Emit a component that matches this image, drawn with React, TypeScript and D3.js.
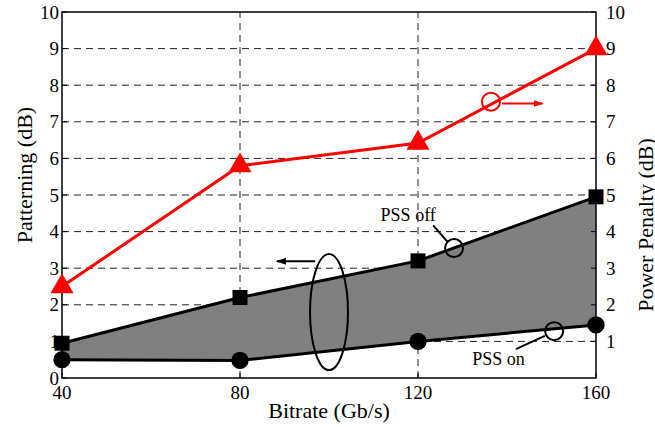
import * as d3 from 'd3';
import React from 'react';

// values
const bitrates = [40, 80, 120, 160];
const pssOff = [0.95, 2.2, 3.2, 4.95]; // patterning, squares
const pssOn = [0.5, 0.48, 1.0, 1.45]; // patterning, circles
const penalty = [2.5, 5.8, 6.42, 9.0]; // power penalty, triangles
const xTicks = [40, 80, 120, 160];
const leftTicks = [0, 1, 2, 3, 4, 5, 6, 7, 8, 9, 10];
const rightTicks = [1, 2, 3, 4, 5, 6, 7, 8, 9, 10];
const gridY = [1, 2, 3, 4, 5, 6, 7, 8, 9];
const gridX = [80, 120];

const W = 655;
const H = 427;
const margin = { top: 12, right: 59, bottom: 49, left: 62 };
const serif = { fontFamily: '"Liberation Serif"' };

export default function App() {
  const x = d3.scaleLinear().domain([40, 160]).range([margin.left, W - margin.right]);
  const y = d3.scaleLinear().domain([0, 10]).range([H - margin.bottom, margin.top]);
  const yR = d3.scaleLinear().domain([0, 10]).range([H - margin.bottom, margin.top]);

  const x0 = x(40);
  const x1 = x(160);
  const y0 = y(0);
  const y1 = y(10);

  const line = d3
    .line<number>()
    .x((_, i) => x(bitrates[i]))
    .y((d) => y(d));
  const lineR = d3
    .line<number>()
    .x((_, i) => x(bitrates[i]))
    .y((d) => yR(d));
  const area = d3
    .area<number>()
    .x((_, i) => x(bitrates[i]))
    .y0((_, i) => y(pssOn[i]))
    .y1((d) => y(d));

  const tri = d3.symbol(d3.symbolTriangle, 230)()!;
  const sq = d3.symbol(d3.symbolSquare, 225)()!;
  const circ = d3.symbol(d3.symbolCircle, 235)()!;

  return (
    <svg width={W} height={H} style={{ position: 'absolute', left: 0, top: 0, background: '#fff' }}>
      <defs>
        <marker id="ah-k" viewBox="0 0 10 10" refX="9" refY="5" markerWidth="5" markerHeight="5" orient="auto">
          <path d="M0,1.5 L10,5 L0,8.5 z" fill="#000" />
        </marker>
        <marker id="ah-r" viewBox="0 0 10 10" refX="9" refY="5" markerWidth="5" markerHeight="5" orient="auto">
          <path d="M0,1.5 L10,5 L0,8.5 z" fill="#f00" />
        </marker>
      </defs>

      {/* grid */}
      <g stroke="#222" strokeWidth={1} strokeDasharray="7,5">
        {gridY.map((t) => (
          <line key={`gy-${t}`} x1={x0} x2={x1} y1={y(t)} y2={y(t)} />
        ))}
        {gridX.map((t) => (
          <line key={`gx-${t}`} x1={x(t)} x2={x(t)} y1={y0} y2={y1} />
        ))}
      </g>

      {/* shaded band */}
      <path d={area(pssOff)!} fill="#808080" />
      <path d={line(pssOff)!} fill="none" stroke="#000" strokeWidth={3} />
      <path d={line(pssOn)!} fill="none" stroke="#000" strokeWidth={3} />

      {/* power penalty */}
      <path d={lineR(penalty)!} fill="none" stroke="#f00" strokeWidth={3} />

      {/* axes box */}
      <rect x={x0} y={y1} width={x1 - x0} height={y0 - y1} fill="none" stroke="#000" strokeWidth={1.5} />
      <g stroke="#000" strokeWidth={1}>
        {leftTicks.map((t) => (
          <line key={`lt-${t}`} x1={x0} x2={x0 + 5} y1={y(t)} y2={y(t)} />
        ))}
        {rightTicks.map((t) => (
          <line key={`rt-${t}`} x1={x1} x2={x1 - 5} y1={yR(t)} y2={yR(t)} />
        ))}
        {xTicks.map((t) => (
          <line key={`xt-${t}`} x1={x(t)} x2={x(t)} y1={y0} y2={y0 - 5} />
        ))}
      </g>

      {/* markers */}
      {pssOff.map((d, i) => (
        <path key={`sq-${i}`} d={sq} transform={`translate(${x(bitrates[i])},${y(d)})`} fill="#000" />
      ))}
      {pssOn.map((d, i) => (
        <path key={`ci-${i}`} d={circ} transform={`translate(${x(bitrates[i])},${y(d)})`} fill="#000" />
      ))}
      {penalty.map((d, i) => (
        <path key={`tr-${i}`} d={tri} transform={`translate(${x(bitrates[i])},${yR(d)})`} fill="#f00" />
      ))}

      {/* annotations */}
      <ellipse cx={x(100)} cy={y(1.8)} rx={19} ry={58} fill="none" stroke="#000" strokeWidth={2} />
      <line x1={x(96.9)} y1={y(3.19)} x2={x(88.3)} y2={y(3.19)} stroke="#000" strokeWidth={2} markerEnd="url(#ah-k)" />
      <circle cx={x(136.4)} cy={yR(7.55)} r={9} fill="none" stroke="#f00" strokeWidth={2} />
      <line x1={x(138.9)} y1={yR(7.5)} x2={x(148)} y2={yR(7.5)} stroke="#f00" strokeWidth={2} markerEnd="url(#ah-r)" />

      <circle cx={x(128.1)} cy={y(3.55)} r={9} fill="none" stroke="#000" strokeWidth={2} />
      <line x1={x(123.4)} y1={y(4.17)} x2={x(126.7)} y2={y(3.71)} stroke="#000" strokeWidth={2} />
      <text x={x(117.8)} y={y(4.3)} textAnchor="middle" fontSize={18} style={serif}>
        PSS off
      </text>

      <circle cx={x(150.6)} cy={y(1.28)} r={9} fill="none" stroke="#000" strokeWidth={2} />
      <line x1={x(142)} y1={y(0.79)} x2={x(148.5)} y2={y(1.15)} stroke="#000" strokeWidth={2} />
      <text x={x(138.1)} y={y(0.35)} textAnchor="middle" fontSize={18} style={serif}>
        PSS on
      </text>

      {/* tick labels */}
      <g fontSize={19} fill="#000">
        {leftTicks.map((t) => (
          <text key={`ll-${t}`} x={x0 - 3} y={y(t)} dy="0.35em" textAnchor="end" style={serif}>
            {t}
          </text>
        ))}
        {rightTicks.map((t) => (
          <text key={`rl-${t}`} x={x1 + 10} y={yR(t)} dy="0.35em" textAnchor="start" style={serif}>
            {t}
          </text>
        ))}
        {xTicks.map((t) => (
          <text key={`xl-${t}`} x={x(t)} y={y0 + 21} textAnchor="middle" style={serif}>
            {t}
          </text>
        ))}
      </g>

      {/* axis titles */}
      <text x={x(100)} y={H - 9} textAnchor="middle" fontSize={22} style={serif}>
        Bitrate (Gb/s)
      </text>
      <text transform={`translate(32,${(y0 + y1) / 2 - 20}) rotate(-90)`} textAnchor="middle" fontSize={22} style={serif}>
        Patterning (dB)
      </text>
      <text transform={`translate(653,${(y0 + y1) / 2 + 30}) rotate(-90)`} textAnchor="middle" fontSize={22} style={serif}>
        Power Penalty (dB)
      </text>
    </svg>
  );
}
